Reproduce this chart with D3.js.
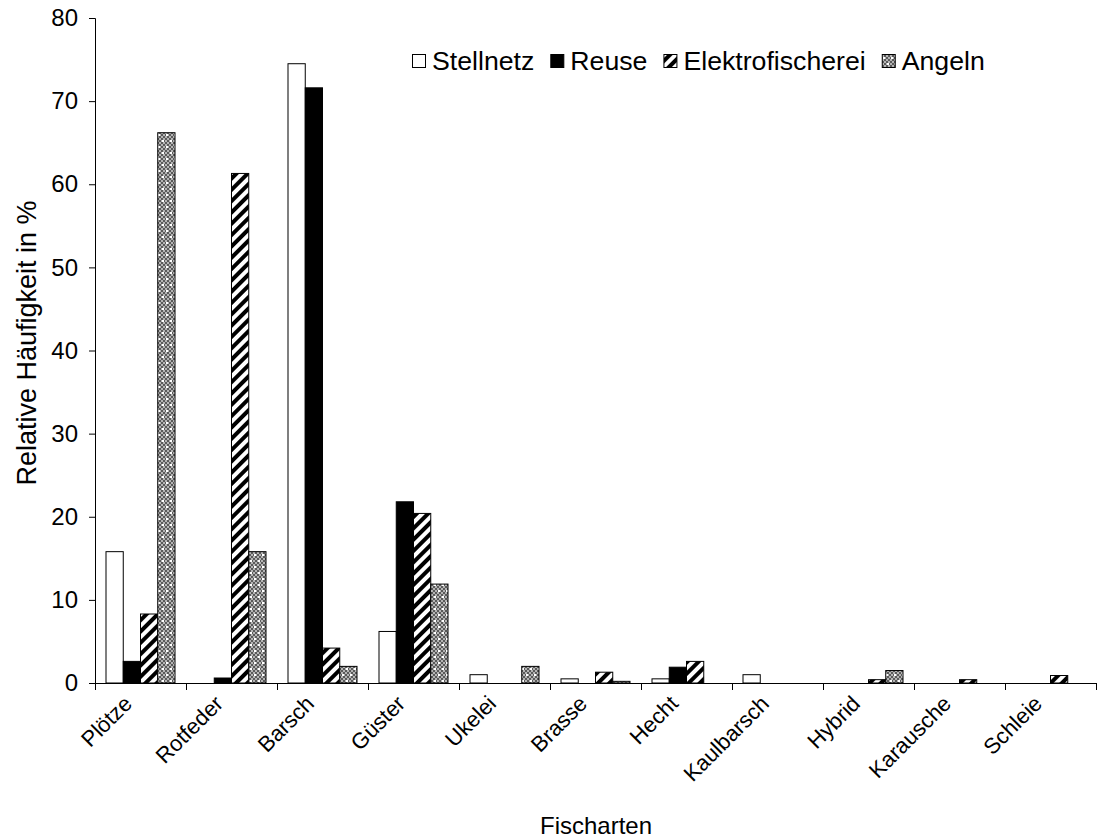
<!DOCTYPE html>
<html>
<head>
<meta charset="utf-8">
<script src="https://cdn.jsdelivr.net/npm/d3@7"></script>
<style>
  html, body { margin: 0; padding: 0; background: #fff; }
  svg { display: block; font-family: "Liberation Sans", Arial, sans-serif; }
</style>
</head>
<body>
<svg id="chart" width="1098" height="839"></svg>
<script>
// Fish species caught, relative frequency (%) per fishing method
const categories = ["Plötze", "Rotfeder", "Barsch", "Güster", "Ukelei", "Brasse",
                    "Hecht", "Kaulbarsch", "Hybrid", "Karausche", "Schleie"];
const seriesNames = ["Stellnetz", "Reuse", "Elektrofischerei", "Angeln"];

const stellnetz        = [15.8, 0.0, 74.5, 6.2, 1.0, 0.5, 0.5, 1.0, 0.0, 0.0, 0.0];
const reuse            = [2.6, 0.6, 71.6, 21.8, 0.0, 0.0, 1.9, 0.0, 0.0, 0.0, 0.0];
const elektrofischerei = [8.3, 61.3, 4.2, 20.4, 0.0, 1.3, 2.6, 0.0, 0.4, 0.4, 0.9];
const angeln           = [66.2, 15.8, 2.0, 11.9, 2.0, 0.2, 0.0, 0.0, 1.5, 0.0, 0.0];

const yTicks = [0, 10, 20, 30, 40, 50, 60, 70, 80];

const seriesValues = [stellnetz, reuse, elektrofischerei, angeln];

const svg = d3.select("#chart");
const margin = { left: 95, right: 2, top: 18, bottom: 156 };
const W = 1098, H = 839;
const plotW = W - margin.left - margin.right;
const plotH = H - margin.top - margin.bottom;

// Fill patterns
const defs = svg.append("defs");
const stripe = defs.append("pattern")
  .attr("id", "stripes").attr("patternUnits", "userSpaceOnUse")
  .attr("width", 8).attr("height", 8)
  .attr("patternTransform", "rotate(45)");
stripe.append("rect").attr("width", 8).attr("height", 8).attr("fill", "#fff");
stripe.append("rect").attr("width", 4).attr("height", 8).attr("fill", "#000");

const dots = defs.append("pattern")
  .attr("id", "dots").attr("patternUnits", "userSpaceOnUse")
  .attr("width", 8).attr("height", 12);
dots.append("rect").attr("width", 8).attr("height", 12).attr("fill", "#5a5a5a");
for (let yy = 0; yy < 12; yy += 2) {
  for (let xx = (yy % 4 === 0 ? 0 : 2); xx < 8; xx += 4) {
    dots.append("rect").attr("x", xx).attr("y", yy).attr("width", 2).attr("height", 2).attr("fill", "#b4b4b4");
  }
}
dots.append("rect").attr("x", 3).attr("y", 2).attr("width", 2).attr("height", 2).attr("fill", "#fff");
dots.append("rect").attr("x", 7).attr("y", 8).attr("width", 1).attr("height", 2).attr("fill", "#fff");
dots.append("rect").attr("x", 0).attr("y", 8).attr("width", 1).attr("height", 2).attr("fill", "#fff");

const fills = ["#fff", "#000", "url(#stripes)", "url(#dots)"];

const g = svg.append("g").attr("transform", `translate(${margin.left},${margin.top})`);

const x0 = d3.scaleBand().domain(categories).range([0, plotW]).paddingInner(0).paddingOuter(0);
const x1 = d3.scaleBand().domain(seriesNames).range([11, x0.bandwidth() - 11]);
const y = d3.scaleLinear().domain([0, 80]).range([plotH, 0]);

// Bars
categories.forEach((cat, ci) => {
  seriesNames.forEach((s, si) => {
    const v = seriesValues[si][ci];
    if (v <= 0) return;
    g.append("rect")
      .attr("x", x0(cat) + x1(s))
      .attr("y", y(v))
      .attr("width", x1.bandwidth())
      .attr("height", y(0) - y(v))
      .attr("fill", fills[si])
      .attr("stroke", "#000")
      .attr("stroke-width", 1);
  });
});

// Y axis
const yAxis = g.append("g")
  .call(d3.axisLeft(y).tickValues(yTicks).tickSize(6).tickPadding(11))
  .call(a => a.select(".domain").attr("d", `M-6,0.5H0.5V${plotH + 0.5}`));
yAxis.selectAll("text").attr("font-size", 24).attr("fill", "#000").attr("font-family", "Liberation Sans, Arial, sans-serif");
yAxis.selectAll("line").attr("stroke", "#000");
yAxis.select(".domain").attr("stroke", "#000");

// X axis: boundary ticks between categories
const xb = d3.scaleLinear().domain([0, categories.length]).range([0, plotW]);
const xAxis = g.append("g").attr("transform", `translate(0,${plotH})`)
  .call(d3.axisBottom(xb).tickValues(d3.range(categories.length + 1)).tickSize(7).tickFormat(""));
xAxis.selectAll("line").attr("stroke", "#000");
xAxis.select(".domain").attr("stroke", "#000").attr("d", `M0.5,0.5H${plotW}`);

// Category labels, rotated
g.append("g").selectAll("text").data(categories).join("text")
  .attr("transform", d => `translate(${x0(d) + x0.bandwidth() / 2 - 7},${plotH + 22}) rotate(-45)`)
  .attr("text-anchor", "end")
  .attr("font-size", 22)
  .text(d => d);

// Axis titles
svg.append("text")
  .attr("transform", `translate(36,343) rotate(-90)`)
  .attr("text-anchor", "middle")
  .attr("font-size", 27)
  .text("Relative Häufigkeit in %");

svg.append("text")
  .attr("x", 596).attr("y", 834)
  .attr("text-anchor", "middle")
  .attr("font-size", 24)
  .text("Fischarten");

// Legend: one row, swatch + label per series, spanning a fixed width
const legendLeft = 412, legendRight = 985;
const swatch = 13, swatchGap = 7, itemGap = 16;
const legend = svg.append("g").attr("transform", `translate(${legendLeft},61)`);
const labels = seriesNames.map(s => legend.append("text").attr("y", 9).attr("font-size", 26).text(s));
const textSum = d3.sum(labels, t => t.node().getComputedTextLength());
const fixed = seriesNames.length * (swatch + swatchGap) + (seriesNames.length - 1) * itemGap;
const fontSize = 26 * (legendRight - legendLeft - fixed) / textSum;
let lx = 0;
seriesNames.forEach((s, i) => {
  legend.append("rect")
    .attr("x", lx + 0.5).attr("y", -6.5)
    .attr("width", swatch).attr("height", swatch)
    .attr("fill", fills[i]).attr("stroke", "#000");
  const t = labels[i].attr("font-size", fontSize).attr("x", lx + swatch + swatchGap);
  lx += swatch + swatchGap + t.node().getComputedTextLength() + itemGap;
});
</script>
</body>
</html>
